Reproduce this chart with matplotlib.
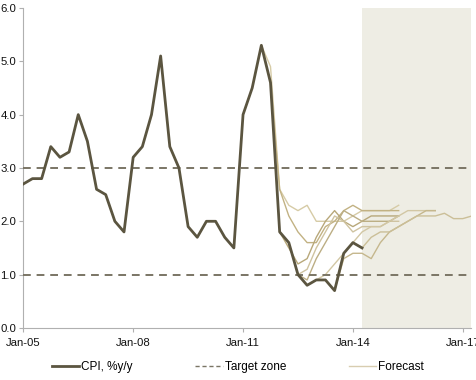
import numpy as np
import matplotlib.pyplot as plt

# quarterly CPI, %y/y, first point plotted at Jan-05
cpi = [2.7, 2.8, 2.8, 3.4, 3.2, 3.3, 4.0, 3.5, 2.6, 2.5, 2.0, 1.8,
       3.2, 3.4, 4.0, 5.1, 3.4, 3.0, 1.9, 1.7, 2.0, 2.0, 1.7, 1.5,
       4.0, 4.5, 5.3, 4.6, 1.8, 1.6, 1.0, 0.8, 0.9, 0.9, 0.7, 1.4,
       1.6, 1.5]

# forecast vintages: (start quarter index, values)
forecasts = [
    (26, [5.3, 4.9, 2.6, 2.3, 2.2, 2.3, 2.0, 2.0, 2.0, 2.0, 2.1, 2.2, 2.2, 2.2, 2.2, 2.3]),
    (27, [4.6, 2.6, 2.1, 1.8, 1.6, 1.6, 1.9, 2.0, 2.2, 2.3, 2.2, 2.2, 2.2, 2.2, 2.2]),
    (28, [1.8, 1.5, 1.2, 1.3, 1.7, 2.0, 2.2, 2.0, 1.9, 2.0, 2.1, 2.1, 2.1, 2.1]),
    (29, [1.6, 1.0, 1.1, 1.5, 1.8, 2.1, 2.0, 1.8, 1.9, 1.9, 1.9, 2.0, 2.0]),
    (30, [1.0, 0.9, 1.3, 1.6, 1.9, 2.2, 2.1, 2.0, 2.0, 2.0, 2.0, 2.1]),
    (32, [0.9, 1.0, 1.2, 1.4, 1.6, 1.8, 1.9, 1.9, 2.0, 2.1, 2.2, 2.2, 2.2, 2.2]),
    (34, [0.7, 1.3, 1.4, 1.4, 1.3, 1.6, 1.8, 1.9, 2.0, 2.1, 2.2, 2.2]),
    (36, [1.6, 1.5, 1.7, 1.8, 1.8, 1.9, 2.0, 2.1, 2.1, 2.1, 2.15, 2.05, 2.05, 2.1]),
]
fc_colors = ["#d6cba6", "#c2b283", "#b8a87a", "#cfc3a0", "#bcae84", "#d2c7a4", "#c5b78d", "#cbbf98"]

tick_pos = [0, 12, 24, 36, 48]
tick_labels = ["Jan-05", "Jan-08", "Jan-11", "Jan-14", "Jan-17"]
yticks = [0.0, 1.0, 2.0, 3.0, 4.0, 5.0, 6.0]

plt.rcParams["font.family"] = ["Liberation Sans", "DejaVu Sans"]

fig = plt.figure(figsize=(4.76, 3.8), dpi=100)
ax = fig.add_axes([0.049, 0.137, 0.9405, 0.842])

x = np.arange(len(cpi))
ax.axvspan(37, 48.9, color="#eeede4", lw=0, zorder=0)

for (start, vals), c in zip(forecasts, fc_colors):
    ax.plot(np.arange(start, start + len(vals)), vals, color=c, lw=1.0, zorder=2)

ax.axhline(3.0, color="#7a7565", lw=1.4, ls=(0, (4, 3)), zorder=3)
ax.axhline(1.0, color="#7a7565", lw=1.4, ls=(0, (4, 3)), zorder=3)
ax.plot(x, cpi, color="#5b5540", lw=2.0, zorder=4)

ax.set_xlim(0, 48.9)
ax.set_ylim(0, 6)
ax.set_xticks(tick_pos)
ax.set_xticklabels(tick_labels)
ax.set_yticks(yticks)
ax.set_yticklabels([f"{v:.1f}" for v in yticks])
for s in ["top", "right"]:
    ax.spines[s].set_visible(False)
for s in ["left", "bottom"]:
    ax.spines[s].set_color("#b0b0b0")
ax.tick_params(axis="both", colors="#b0b0b0", labelcolor="#111111", labelsize=8.2, length=3)
ax.tick_params(axis="x", pad=4)
ax.tick_params(axis="y", pad=2)

h1, = ax.plot([], [], color="#5b5540", lw=2.0)
h2, = ax.plot([], [], color="#7a7565", lw=1.0, ls=(0, (3, 2)))
h3, = ax.plot([], [], color="#d8cdb0", lw=1.0)
fig.legend([h1, h2, h3], ["CPI, %y/y", "Target zone", "Forecast"], loc="center",
           bbox_to_anchor=(0.5, 0.034), ncol=3, frameon=False, fontsize=8.5,
           handlelength=2.3, handletextpad=0.2, columnspacing=5.3)

fig.savefig("out.png", dpi=100)
